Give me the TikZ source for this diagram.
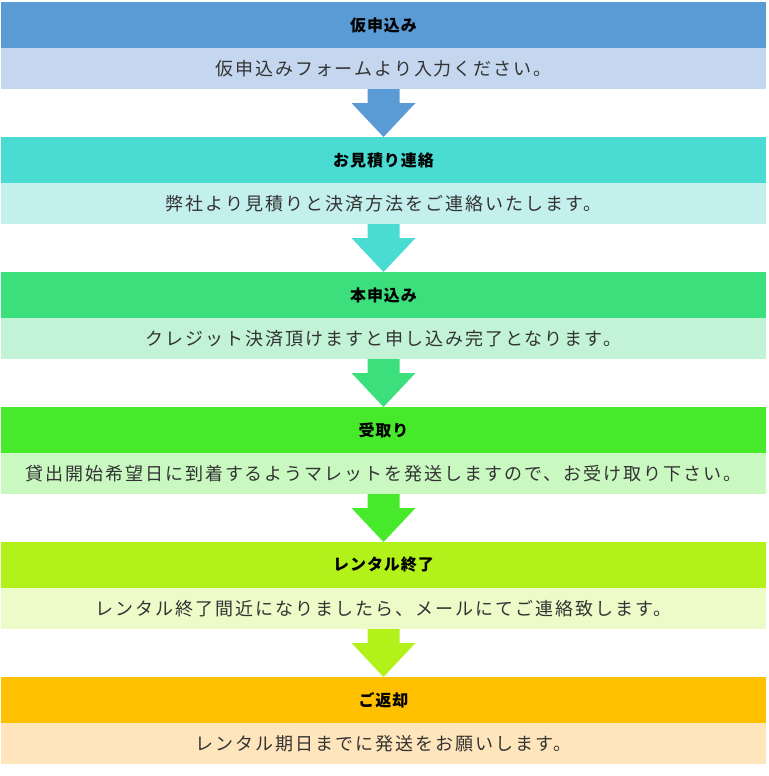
\documentclass[tikz,border=0pt]{standalone}
\usepackage{fontspec}
\usetikzlibrary{calc}
\newfontfamily\jpbody[LetterSpace=11]{Noto Sans CJK JP}
\newfontfamily\jphead[LetterSpace=6]{Noto Sans CJK JP}
\definecolor{hA}{HTML}{5B9BD5}\definecolor{bA}{HTML}{C5D7EE}
\definecolor{hB}{HTML}{4ADCD3}\definecolor{bB}{HTML}{C3EFEC}
\definecolor{hC}{HTML}{3BE07D}\definecolor{bC}{HTML}{C2F3D6}
\definecolor{hD}{HTML}{47EA2B}\definecolor{bD}{HTML}{C9F8C1}
\definecolor{hE}{HTML}{B3F11A}\definecolor{bE}{HTML}{EDFBC8}
\definecolor{hF}{HTML}{FFC000}\definecolor{bF}{HTML}{FFE5BC}
\definecolor{txt}{HTML}{333333}
\tikzset{
  hdr/.style={minimum width=765pt, minimum height=46pt, inner sep=0pt, outer sep=0pt,
    font=\jphead\bfseries\fontsize{16pt}{18pt}\selectfont, text=black},
  bdy/.style={minimum width=765pt, minimum height=41pt, inner sep=0pt, outer sep=0pt,
    font=\jpbody\fontsize{18pt}{20pt}\selectfont, text=txt},
}
\newcommand{\blockarrow}[3]{%
  \fill[#3] ($(#1.south)+(-16,0)$) -- ($(#1.south)+(16,0)$) -- ($(#1.south)+(16,14)$)
    -- ($(#1.south)+(32,14)$) -- (#2.north) -- ($(#1.south)+(-32,14)$)
    -- ($(#1.south)+(-16,14)$) -- cycle;}
\begin{document}
\begin{tikzpicture}[x=1pt,y=-1pt]
\useasboundingbox (0,0) rectangle (768,776);
\node[hdr, fill=hA] (h1) at (383.5,25) {仮申込み};
\node[bdy, fill=bA] (b1) at (383.5,68.5) {仮申込みフォームより入力ください。};
\node[hdr, fill=hB] (h2) at (383.5,160) {お見積り連絡};
\node[bdy, fill=bB] (b2) at (383.5,203.5) {弊社より見積りと決済方法をご連絡いたします。};
\node[hdr, fill=hC] (h3) at (383.5,295) {本申込み};
\node[bdy, fill=bC] (b3) at (383.5,338.5) {クレジット決済頂けますと申し込み完了となります。};
\node[hdr, fill=hD] (h4) at (383.5,430) {受取り};
\node[bdy, fill=bD] (b4) at (383.5,473.5) {貸出開始希望日に到着するようマレットを発送しますので、お受け取り下さい。};
\node[hdr, fill=hE] (h5) at (383.5,565) {レンタル終了};
\node[bdy, fill=bE] (b5) at (383.5,608.5) {レンタル終了間近になりましたら、メールにてご連絡致します。};
\node[hdr, fill=hF] (h6) at (383.5,700) {ご返却};
\node[bdy, fill=bF] (b6) at (383.5,743.5) {レンタル期日までに発送をお願いします。};
\blockarrow{b1}{h2}{hA}
\blockarrow{b2}{h3}{hB}
\blockarrow{b3}{h4}{hC}
\blockarrow{b4}{h5}{hD}
\blockarrow{b5}{h6}{hE}
\end{tikzpicture}
\end{document}
